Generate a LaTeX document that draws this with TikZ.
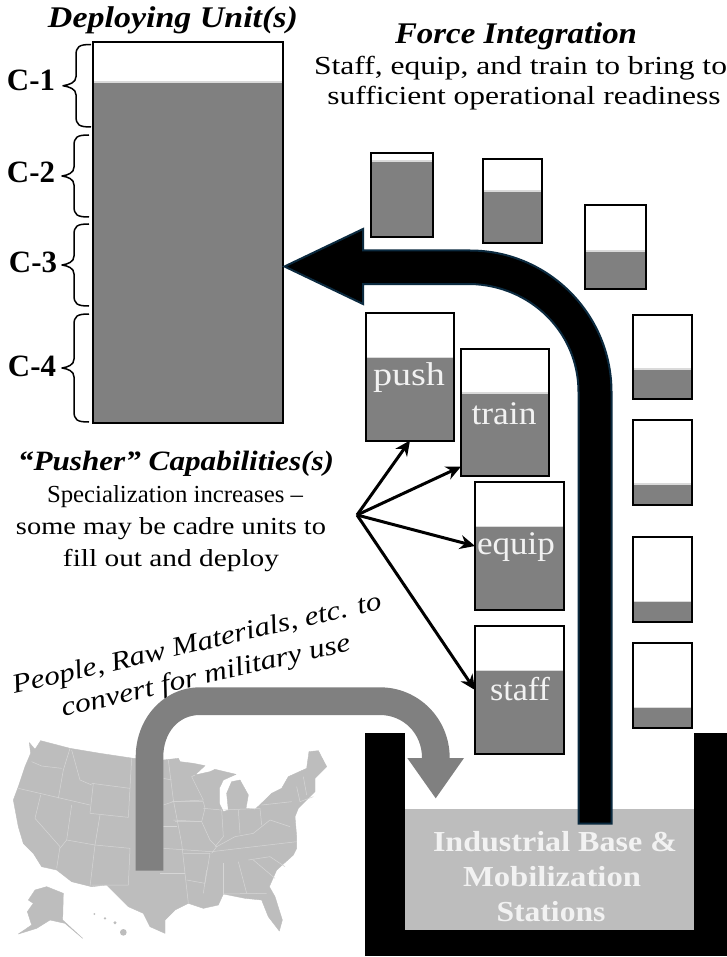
\documentclass[tikz,border=0pt]{standalone}
\usepackage{fontspec}
\usepackage{graphicx}
\setmainfont{Liberation Serif}
\usetikzlibrary{arrows.meta}
\definecolor{fillgray}{HTML}{808080}
\definecolor{stripgray}{HTML}{DADADA}
\definecolor{mapgray}{HTML}{BDBDBD}
\definecolor{mapline}{HTML}{D6D6D6}
\definecolor{navyedge}{HTML}{0B2A3F}
\definecolor{softwhite}{HTML}{F2F2F2}
\newcommand{\fsz}[1]{\fontsize{#1}{#1}\selectfont}
\newcommand{\fitw}[2]{\resizebox{#1pt}{\height}{#2}}
\newcommand{\levelbox}[6]{% name x1 y1 x2 y2 yfill
  \fill[white] (#2,#3) rectangle (#4,#5);
  \fill[fillgray] (#2,#6) rectangle (#4,#5);
  \fill[stripgray] (#2,#6-1.5) rectangle (#4,#6);
  \pgfmathsetmacro{\bw}{#4-#2}\pgfmathsetmacro{\bh}{#5-#3}
  \pgfmathsetmacro{\bx}{(#2+#4)/2}\pgfmathsetmacro{\by}{(#3+#5)/2}
  \node[boxframe,minimum width=\bw pt,minimum height=\bh pt] (#1) at (\bx,\by) {};
}
\newcommand{\capbrace}[5]{% xright xleft xtip ytop ybottom
  \pgfmathsetmacro{\ym}{(#4+#5)/2}
  \draw[bracestyle] (#1,#4) .. controls (#2+3,#4) and (#2,#4+2) .. (#2,#4+11)
    -- (#2,\ym-9) .. controls (#2,\ym-3) and (#3+6,\ym-1) .. (#3,\ym)
    .. controls (#3+6,\ym+1) and (#2,\ym+3) .. (#2,\ym+9)
    -- (#2,#5-11) .. controls (#2,#5-2) and (#2+3,#5) .. (#1,#5);
}
\tikzset{
  boxframe/.style={draw=black,line width=2pt,inner sep=0pt,outer sep=0pt},
  bracestyle/.style={draw=black,line width=1.5pt,line join=round},
  capfont/.style={font=\fsz{31}\bfseries,text=black,inner sep=0pt},
  title/.style={font=\fsz{30}\bfseries\itshape,inner sep=0pt,text=black},
  body/.style={font=\fsz{26},inner sep=0pt,text=black},
  lower/.style={font=\fsz{24.5},inner sep=0pt,text=black},
  slanted/.style={font=\fsz{27}\itshape,inner sep=0pt,text=black,rotate=13},
  boxlabel/.style={font=\fsz{33},inner sep=0pt,text=softwhite},
  baselabel/.style={font=\fsz{29}\bfseries,inner sep=0pt,text=softwhite},
  pointer/.style={draw=black,line width=3pt,-{Stealth[length=15pt,width=14pt]}},
  stateline/.style={draw=mapline,line width=.5pt,line join=round},
  landmass/.style={fill=mapgray,draw=mapgray,line width=.4pt,line join=round},
}
\begin{document}
\begin{tikzpicture}[x=1pt,y=-1pt]
\useasboundingbox (0,0) rectangle (727,957);
\fill[white] (0,0) rectangle (727,957);

% map (outline and western borders)
\begin{scope}[shift={(0,730)},x=0.33333pt,y=-0.33333pt]
\path[landmass] (88,38) -- (105,58) -- (122,32) -- (210,55) -- (300,70) -- (400,85) -- (490,90) -- (535,85) -- (540,95) -- (580,100) -- (615,107) -- (585,135) -- (630,125) -- (645,118) -- (708,133) -- (670,150) -- (658,175) -- (658,220) -- (670,245) -- (685,240) -- (680,190) -- (695,155) -- (720,150) -- (745,195) -- (738,235) -- (765,238) -- (800,205) -- (815,190) -- (845,175) -- (865,140) -- (920,115) -- (927,65) -- (955,62) -- (980,110) -- (945,145) -- (945,185) -- (910,220) -- (895,235) -- (885,260) -- (890,320) -- (890,355) -- (880,375) -- (830,420) -- (808,470) -- (825,500) -- (847,570) -- (838,603) -- (805,560) -- (785,510) -- (735,505) -- (670,492) -- (655,525) -- (610,535) -- (565,520) -- (525,540) -- (495,570) -- (495,610) -- (450,590) -- (430,550) -- (385,530) -- (355,500) -- (320,465) -- (275,470) -- (215,455) -- (170,420) -- (125,410) -- (100,370) -- (70,340) -- (55,290) -- (40,210) -- (55,170) -- (75,110) -- (92,70) -- cycle;
\path[landmass] (105,480) -- (140,470) -- (190,490) -- (188,570) -- (248,625) -- (195,580) -- (150,570) -- (110,595) -- (55,612) -- (95,585) -- (82,545) -- (100,520) -- (85,510) -- cycle;
\fill[mapgray] (370,607) circle (10);
\fill[mapgray] (345,578) circle (5);
\fill[mapgray] (315,565) circle (4);
\fill[mapgray] (283,552) circle (3);
\draw[stateline] (95,95) -- (125,108) -- (185,115);
\draw[stateline] (210,55) -- (190,120) -- (175,205);
\draw[stateline] (215,60) -- (240,150) -- (275,165);
\draw[stateline] (275,160) -- (390,175);
\draw[stateline] (280,160) -- (270,250) -- (385,262);
\draw[stateline] (55,175) -- (270,225);
\draw[stateline] (122,195) -- (105,265) -- (180,350) -- (170,415);
\draw[stateline] (215,225) -- (200,330) -- (180,355);
\draw[stateline] (300,255) -- (285,345);
\draw[stateline] (200,330) -- (285,345) -- (390,355);
\draw[stateline] (285,345) -- (270,470);
\draw[stateline] (390,355) -- (385,465) -- (275,465);
\draw[stateline] (395,85) -- (385,262);
\end{scope}
% map (eastern borders)
\begin{scope}[shift={(160,730)},x=0.33333pt,y=-0.33333pt]
\draw[stateline] (25,90) -- (40,210) -- (65,340) -- (75,430) -- (85,520);
\draw[stateline] (10,145) -- (35,150);
\draw[stateline] (10,225) -- (40,215) -- (130,210) -- (95,140) -- (105,135);
\draw[stateline] (35,215) -- (130,215) -- (135,235) -- (125,275) -- (40,270);
\draw[stateline] (10,290) -- (50,290);
\draw[stateline] (10,355) -- (155,365);
\draw[stateline] (45,275) -- (125,275) -- (150,330) -- (170,350) -- (155,370);
\draw[stateline] (130,235) -- (185,240) -- (190,320) -- (165,350);
\draw[stateline] (70,370) -- (150,370) -- (135,460) -- (80,450);
\draw[stateline] (0,430) -- (75,430);
\draw[stateline] (140,420) -- (130,490);
\draw[stateline] (190,400) -- (190,495);
\draw[stateline] (235,395) -- (260,490);
\draw[stateline] (155,365) -- (410,335);
\draw[stateline] (170,350) -- (225,320) -- (280,310) -- (330,270) -- (390,290);
\draw[stateline] (235,240) -- (240,310);
\draw[stateline] (190,240) -- (300,235);
\draw[stateline] (300,235) -- (305,285);
\draw[stateline] (305,225) -- (395,215);
\draw[stateline] (280,390) -- (345,445);
\draw[stateline] (265,390) -- (330,380) -- (375,410);
\draw[stateline] (190,492) -- (320,490);
\draw[stateline] (410,170) -- (420,215) -- (460,200);
\draw[stateline] (430,140) -- (440,195);
\end{scope}

% basin
\fill[black] (365,733) rectangle (405,956);
\fill[black] (694,733) rectangle (727,956);
\fill[black] (365,930) rectangle (727,956);
\fill[mapgray] (405,809) rectangle (694,930);
\node[baselabel] (base1) at (555,842) {\fitw{244}{Industrial Base \&}};
\node[baselabel] (base2) at (552,877) {\fitw{178}{Mobilization}};
\node[baselabel] (base3) at (551,912) {\fitw{109}{Stations}};

% large unit
\levelbox{deploy}{92.7}{41.7}{282.5}{422.5}{83}
\capbrace{91}{76}{63}{44.5}{127}
\capbrace{89}{74}{62}{135}{217}
\capbrace{89}{74}{62}{224}{306}
\capbrace{89}{74}{62}{314}{422}
\node[capfont] (c1) at (31,80) {\fitw{48}{C-1}};
\node[capfont] (c2) at (31,172) {\fitw{48}{C-2}};
\node[capfont] (c3) at (33,262) {\fitw{48}{C-3}};
\node[capfont] (c4) at (32,366) {\fitw{48}{C-4}};

% small units
\levelbox{ua}{371}{153}{432.5}{237.5}{162}
\levelbox{ub}{483}{159}{542}{243}{192}
\levelbox{uc}{585}{205}{645.5}{289}{252}
\levelbox{ud}{633}{314.5}{691.5}{398.5}{369.5}
\levelbox{ue}{633}{420}{691.5}{505}{484.5}
\levelbox{uf}{633}{537}{691.5}{622}{602}
\levelbox{ug}{633}{643}{691.5}{728}{708}

% pusher units
\levelbox{push}{366}{313}{454}{440.5}{358}
\levelbox{train}{461}{348.5}{549}{476}{393.5}
\levelbox{equip}{475}{482}{564}{610}{527}
\levelbox{staff}{475}{626}{564}{754}{671}
\node[boxlabel] at (409,378) {\fitw{72}{push}};
\node[boxlabel] at (504,414) {\fitw{65}{train}};
\node[boxlabel] at (516,547) {\fitw{78}{equip}};
\node[boxlabel] at (520,689) {\fitw{60}{staff}};

% slanted caption, under the gray arrow
\node[slanted] (t9) at (197,645) {\fitw{378}{People, Raw Materials, etc. to}};
\node[slanted] (t10) at (206,677) {\fitw{296}{convert for military use}};

% gray arrow
\fill[fillgray] (135.7,870.7) -- (135.7,757) .. controls (135.7,718) and (164,687.3) .. (200,687.3)
  -- (380,687.3) .. controls (418,687.3) and (449.7,718) .. (449.7,758)
  -- (464,758) -- (435.7,798.3) -- (407.3,758) -- (422,758)
  .. controls (422,733) and (403,715) .. (380,715)
  -- (200,715) .. controls (178,715) and (163.3,733) .. (163.3,757)
  -- (163.3,870.7) -- cycle;

% black arrow
\draw[draw=navyedge,fill=black,line width=2pt,line join=miter]
  (578.5,823.5) -- (578.5,392) .. controls (578.5,332) and (530,285) .. (470,284)
  -- (363,284) -- (363,304) -- (284.5,266.5) -- (363,229) -- (363,250.5)
  -- (470,250.5) .. controls (548,250.5) and (611.5,314) .. (611.5,392)
  -- (611.5,823.5) -- cycle;

% pointers
\coordinate (hub) at (357,515);
\draw[pointer] (hub) -- (push.south);
\draw[pointer] (hub) -- (train.231);
\draw[pointer] (hub) -- (equip.west);
\draw[pointer] (hub) -- (staff.west);

% texts
\node[title] (t1) at (173,20) {\fitw{250}{Deploying Unit(s)}};
\node[title] (t2) at (516,36) {\fitw{242}{Force Integration}};
\node[body] (t3) at (520.5,68) {\fitw{413}{Staff, equip, and train to bring to}};
\node[body] (t4) at (524,98) {\fitw{393}{sufficient operational readiness}};
\node[title,font=\fsz{28}\bfseries\itshape] (t5) at (176,464) {\fitw{316}{“Pusher” Capabilities(s)}};
\node[lower] (t6) at (175,497) {\fitw{256}{Specialization increases –}};
\node[lower] (t7) at (171,529) {\fitw{310}{some may be cadre units to}};
\node[lower] (t8) at (171,561) {\fitw{216}{fill out and deploy}};
\end{tikzpicture}
\end{document}
